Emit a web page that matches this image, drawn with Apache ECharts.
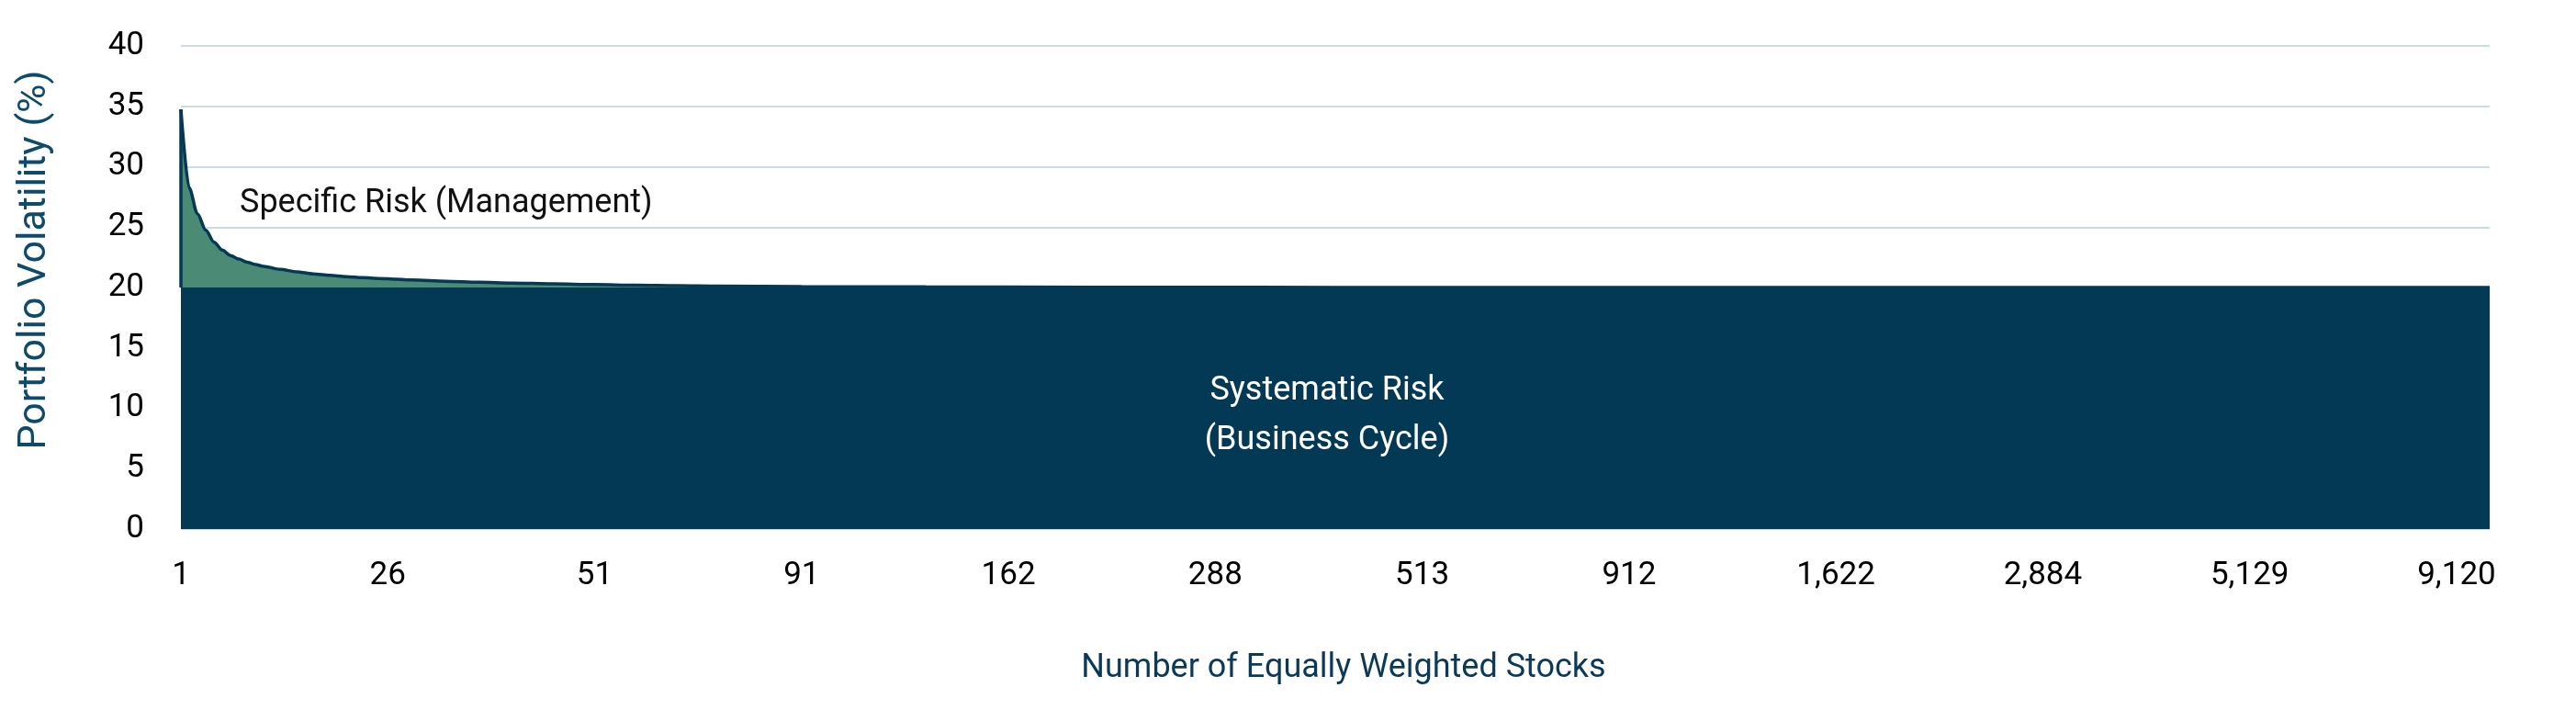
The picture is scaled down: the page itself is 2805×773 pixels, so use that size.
<!DOCTYPE html>
<html>
<head>
<meta charset="utf-8">
<script src="https://cdn.jsdelivr.net/npm/echarts@6/dist/echarts.min.js"></script>
<style>
  html, body { margin: 0; padding: 0; background: #ffffff; }
  #chart { width: 2805px; height: 773px; }
</style>
</head>
<body>
<div id="chart"></div>
<script>
// Tick labels shown every 25 positions along the x axis
const tickLabels = ['1', '26', '51', '91', '162', '288', '513', '912', '1,622', '2,884', '5,129', '9,120'];
const tickStep = 25;
const lastPosition = 279;

// Position along the x axis (0 = 1 stock) and total portfolio volatility
const positions = [0, 1, 2, 3, 4, 5, 6, 7, 8, 9, 10, 12, 14, 16, 18, 20, 22, 24, 26, 28, 32, 36, 40, 45, 50, 55, 60, 65, 75, 90, 110, 130, 150, 200, 279];
const totalVol  = [34.75, 28.25, 26.1, 24.75, 23.75, 23.1, 22.65, 22.35, 22.1, 21.9, 21.75, 21.5, 21.3, 21.12, 21.0, 20.9, 20.82, 20.75, 20.68, 20.62, 20.52, 20.44, 20.37, 20.3, 20.24, 20.19, 20.15, 20.11, 20.08, 20.05, 20.02, 20.01, 20.0, 20.0, 20.0];

// Systematic (business-cycle) risk level
const systematicPositions = [0, 279];
const systematicVol = [20, 20];

const NAVY = '#033955';
const GREEN = '#4b8a75';
const GRID = '#c9dde8';
const FONT = 'Roboto';

const chart = echarts.init(document.getElementById('chart'), null, { renderer: 'canvas' });

const option = {
  animation: false,
  backgroundColor: '#ffffff',
  grid: { left: 197, right: 94, top: 50, bottom: 197, containLabel: false },
  xAxis: {
    type: 'value',
    min: 0,
    max: lastPosition,
    interval: tickStep,
    name: 'Number of Equally Weighted Stocks',
    nameLocation: 'middle',
    nameGap: 134,
    nameTextStyle: { fontFamily: FONT, fontSize: 36, color: '#0b3a58', padding: [0, 0, 0, 18] },
    axisLine: { show: false },
    axisTick: { show: false },
    splitLine: { show: false },
    axisLabel: {
      fontFamily: FONT, fontSize: 35, color: '#000000', margin: 34,
      formatter: function (v) {
        if (v % tickStep !== 0) return '';
        const i = Math.round(v / tickStep);
        return tickLabels[i] !== undefined ? tickLabels[i] : '';
      }
    }
  },
  yAxis: {
    type: 'value',
    min: 0,
    max: 40,
    interval: 5,
    name: 'Portfolio Volatility (%)',
    nameLocation: 'middle',
    nameGap: 137,
    nameTextStyle: { fontFamily: FONT, fontSize: 43, color: '#0e4a6b', padding: [0, 0, 0, 60] },
    axisLine: { show: false },
    axisTick: { show: false },
    splitLine: { show: true, lineStyle: { color: GRID, width: 2 } },
    axisLabel: { fontFamily: FONT, fontSize: 35, color: '#000000', margin: 40 }
  },
  series: [
    {
      name: 'Total Risk',
      type: 'line',
      data: positions.map((p, i) => [p, totalVol[i]]),
      showSymbol: false,
      smooth: 0.3,
      smoothMonotone: 'x',
      lineStyle: { color: NAVY, width: 3.5 },
      areaStyle: { color: GREEN, opacity: 1 },
      z: 2,
      silent: true,
      markLine: {
        silent: true,
        symbol: 'none',
        label: { show: false },
        lineStyle: { color: NAVY, width: 3.5, type: 'solid' },
        data: [[{ coord: [positions[0], systematicVol[0]] }, { coord: [positions[0], totalVol[0]] }]]
      }
    },
    {
      name: 'Systematic Risk',
      type: 'line',
      data: systematicPositions.map((p, i) => [p, systematicVol[i]]),
      showSymbol: false,
      lineStyle: { width: 0, color: NAVY },
      areaStyle: { color: NAVY, opacity: 1 },
      z: 3,
      silent: true
    }
  ],
  graphic: [
    {
      type: 'text',
      left: 261,
      top: 204,
      z: 10,
      style: { text: 'Specific Risk (Management)', font: '36px Roboto', fill: '#111111' }
    },
    {
      type: 'text',
      x: 1445,
      y: 453,
      z: 10,
      style: {
        text: 'Systematic Risk\n(Business Cycle)',
        font: '36px Roboto',
        fill: '#ffffff',
        align: 'center',
        verticalAlign: 'middle',
        lineHeight: 54
      }
    }
  ]
};

chart.setOption(option);
</script>
</body>
</html>
